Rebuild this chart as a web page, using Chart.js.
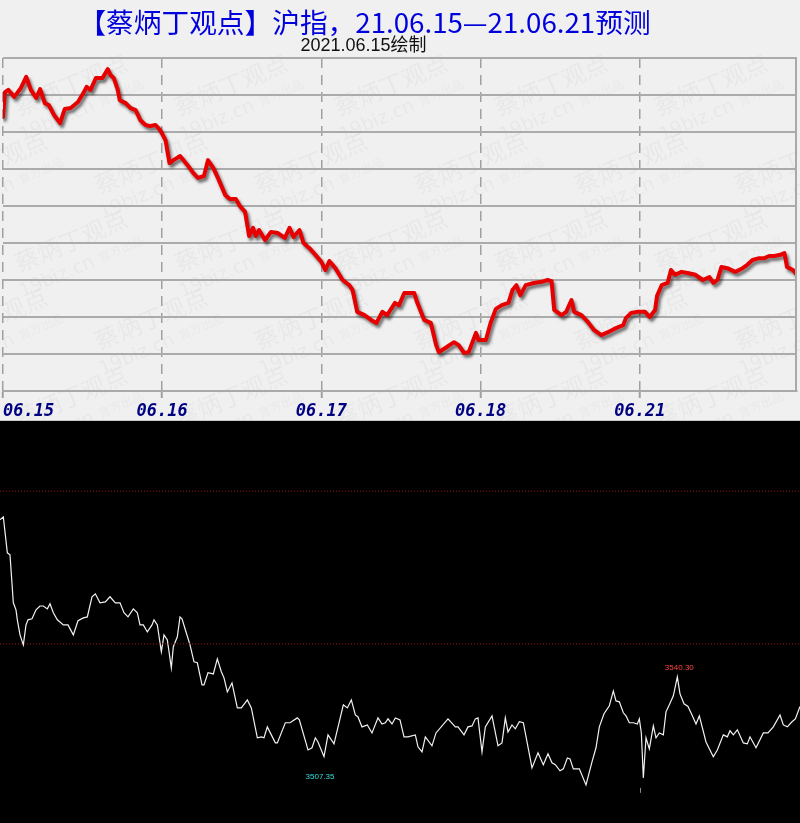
<!DOCTYPE html>
<html>
<head>
<meta charset="utf-8">
<script src="https://cdn.jsdelivr.net/npm/chart.js@4.4.1/dist/chart.umd.min.js"></script>
<style>
  body { margin: 0; background: #fff; }
  #top { position: relative; width: 800px; height: 420px; background: #f0f0f0; overflow: hidden; }
  #fc { position: absolute; left: 0; top: 0; }
  #title { position: absolute; left: 0; width: 729px; top: 5px; text-align: center; font: 27.7px "Noto Sans CJK SC", sans-serif; line-height: 32px; color: #0000dd; white-space: nowrap; }
  #sub { position: absolute; left: 0; width: 727px; top: 35px; text-align: center; font: 18px "Liberation Sans", "Noto Sans CJK SC", sans-serif; line-height: 20px; color: #111; white-space: nowrap; }
  #sep { width: 800px; height: 1px; background: #c8c8c8; }
  #bottom { width: 800px; height: 402px; background: #000; }
</style>
</head>
<body>
<div id="top">
  <canvas id="fc" width="800" height="420"></canvas>
  <div id="title">【蔡炳丁观点】沪指，21.06.15—21.06.21预测</div>
  <div id="sub">2021.06.15绘制</div>
</div>
<div id="sep"></div>
<div id="bottom"><canvas id="rt" width="800" height="402"></canvas></div>
<script>
// forecast line (top panel): minutes since 06.15 open, value in grid units (0-90)
const forecastMinute = [0,3,8,17,27,35,42,50,56,63,69,77,86,93,102,113,122,126,132,140,150,158,162,167,173,176,185,192,200,207,215,222,230,237,
  245,251,257,267,278,287,294,303,309,317,324,335,342,351,357,365,371,377,381,386,395,404,414,425,432,438,447,453,462,471,480,
  486,492,501,512,522,527,534,545,555,563,572,579,591,597,605,620,624,635,645,653,657,669,680,687,695,702,713,717,728,
  735,743,752,762,768,774,780,788,800,812,821,827,831,842,849,857,861,872,882,891,902,912,924,935,939,947,957,968,975,983,
  986,993,1002,1007,1013,1023,1032,1044,1055,1065,1071,1077,1083,1092,1104,1115,1122,1130,1140,1148,1155,1163,1172,1178,1182,1191,1197];
const forecastValue = [74.1,80.8,81.4,79.5,81.9,84.9,81.4,79.2,81.6,77.8,77.3,74.6,72.4,76.2,76.5,78.1,80.8,82.2,81.4,84.6,84.6,87.0,85.4,84.6,81.4,78.6,77.8,76.5,75.9,73.2,71.9,71.6,71.9,70.5,
  67.8,61.6,62.4,63.5,61.1,58.9,57.6,58.1,62.4,60.3,57.6,53.0,51.9,51.9,50.0,48.4,41.9,44.1,41.9,43.5,40.8,43.0,42.7,41.4,44.1,41.6,43.5,40.0,38.6,36.8,34.9,
  32.7,35.1,33.2,30.0,28.6,27.3,21.4,20.5,19.2,18.4,21.4,20.5,23.8,23.2,26.5,26.5,24.1,19.2,18.4,12.4,10.5,11.9,13.2,12.4,10.3,10.5,15.7,13.8,13.8,
  18.4,22.2,23.2,23.8,27.3,28.6,25.9,28.6,29.2,29.5,30.0,29.7,21.9,20.5,21.4,24.6,21.4,20.5,18.6,16.5,15.1,15.9,17.0,17.8,19.7,21.1,21.4,21.4,20.0,21.9,
  25.7,28.6,29.2,32.7,31.4,32.2,31.9,31.4,30.0,30.8,29.2,30.0,33.5,33.2,32.2,33.2,34.1,35.4,35.9,35.9,36.5,36.5,36.8,37.3,33.5,32.7,31.4];
const dayTicks = [0, 240, 480, 720, 960, 1197];
const dayLabels = ['06.15', '06.16', '06.17', '06.18', '06.21', ''];

// actual index (bottom panel): minutes since 06.15 open, price
const realMinute = [0,5,11,15,20,24,26,30,35,39,42,48,54,60,65,71,75,80,86,95,102,110,117,125,131,138,143,150,158,165,173,180,186,192,200,206,210,215,221,228,231,236,
  242,246,251,257,260,266,270,273,278,285,291,296,303,306,312,320,326,332,336,341,348,356,362,371,377,386,392,396,401,413,416,428,435,446,449,462,468,473,477,
  486,492,501,515,521,527,533,537,543,551,558,567,573,578,582,588,593,600,606,612,623,627,633,638,648,654,672,683,687,696,702,708,713,717,723,728,738,747,753,
  758,762,768,773,779,785,798,807,815,822,828,833,840,845,851,855,860,869,879,888,894,899,906,914,920,924,929,935,939,944,950,956,959,962,965,969,974,980,984,
  989,995,999,1004,1010,1016,1020,1026,1032,1038,1044,1049,1059,1070,1076,1085,1091,1095,1100,1106,1115,1121,1125,1134,1145,1152,1160,1170,1175,1181,1188,1193,1200];
const realPrice = [3605.0,3606.2,3591.4,3590.6,3570.8,3567.9,3563.8,3557.6,3553.5,3561.7,3563.8,3564.2,3567.9,3569.5,3569.5,3568.3,3570.4,3566.7,3563.8,3561.7,3561.7,3557.6,3563.4,3564.6,3565.0,3573.3,3574.5,3570.8,3571.2,3573.3,3570.8,3570.8,3566.7,3565.0,3568.3,3566.7,3561.7,3561.7,3558.8,3561.7,3563.8,3561.7,
  3550.6,3557.6,3555.5,3544.0,3552.7,3556.8,3565.0,3564.2,3559.7,3553.5,3546.5,3546.1,3537.0,3537.0,3542.0,3541.5,3547.7,3542.4,3539.9,3534.1,3537.8,3527.5,3527.5,3530.8,3527.5,3515.2,3515.6,3515.2,3519.7,3513.1,3513.1,3521.4,3521.4,3523.4,3522.6,3510.2,3511.1,3515.2,3513.5,
  3507.4,3516.4,3512.7,3528.8,3527.5,3530.8,3524.6,3523.8,3519.7,3520.5,3517.2,3523.4,3520.9,3521.4,3523.0,3520.9,3523.4,3522.6,3515.6,3515.6,3516.4,3511.5,3509.4,3515.6,3511.9,3517.2,3523.0,3519.7,3519.7,3516.4,3519.7,3520.1,3523.0,3523.4,3509.4,3519.7,3524.2,3511.9,3513.1,
  3523.4,3517.6,3520.5,3518.9,3521.8,3521.4,3502.8,3509.0,3504.1,3508.6,3504.9,3504.1,3501.6,3502.4,3506.9,3506.5,3502.4,3502.4,3495.8,3505.3,3511.1,3519.7,3525.1,3528.4,3534.5,3530.4,3530.0,3525.5,3524.2,3521.4,3521.4,3520.9,3523.0,3517.2,3498.7,3515.2,3510.6,3520.1,3515.2,
  3517.2,3516.4,3525.9,3528.8,3532.5,3540.3,3533.3,3529.2,3528.1,3524.6,3520.9,3524.2,3513.5,3507.4,3510.2,3516.4,3515.6,3518.1,3516.4,3518.5,3513.1,3512.7,3515.6,3511.1,3517.2,3517.2,3519.7,3524.6,3520.5,3519.7,3521.8,3523.0,3528.1];
const refLevels = [3616.8, 3553.9];
const markText = ['3540.30', '3507.35'];
const markMinute = [1016, 486];
const markPrice = [3540.30, 3507.35];
const markColor = ['#ff4444', '#33dddd'];
const tickMinute = 962;

// ---------- top: forecast ----------
const watermark = {
  id: 'watermark',
  beforeDraw(chart) {
    const c = chart.ctx;
    c.save();
    c.fillStyle = 'rgba(0,0,0,0.035)';
    for (let row = 0; row < 6; row++) {
      for (let col = -1; col < 6; col++) {
        const x = col * 160 + (row % 2) * 80 + 70, y = row * 78 + 95;
        c.save();
        c.translate(x, y);
        c.rotate(-0.4);
        c.font = '24px "Noto Sans CJK SC"';
        c.fillText('蔡炳丁观点', -55, 0);
        c.font = '19px "DejaVu Sans"';
        c.fillText('19biz.cn', -62, 24);
        c.font = '12px "Noto Sans CJK SC"';
        c.fillText('官方出品', 24, 22);
        c.restore();
      }
    }
    c.restore();
  }
};
const shadow = {
  id: 'shadow',
  beforeDatasetDraw(chart) {
    const c = chart.ctx;
    c.save();
    c.shadowColor = 'rgba(0,0,0,0.55)';
    c.shadowOffsetX = 2;
    c.shadowOffsetY = 3;
    c.shadowBlur = 3;
  },
  afterDatasetDraw(chart) { chart.ctx.restore(); }
};
const rightEdge = {
  id: 'rightEdge',
  afterDraw(chart) {
    const a = chart.chartArea, c = chart.ctx;
    c.save();
    c.strokeStyle = '#a9a9a9';
    c.lineWidth = 2;
    c.beginPath();
    c.moveTo(a.right - 1, a.top);
    c.lineTo(a.right - 1, a.bottom);
    c.stroke();
    c.restore();
  }
};

new Chart(document.getElementById('fc').getContext('2d'), {
  type: 'line',
  data: {
    datasets: [{
      data: forecastMinute.map((m, i) => ({ x: m, y: forecastValue[i] })),
      borderColor: '#e60000',
      borderWidth: 4,
      borderJoinStyle: 'round',
      borderCapStyle: 'round',
      pointRadius: 0,
      tension: 0
    }]
  },
  options: {
    responsive: false,
    animation: false,
    layout: { padding: { left: 2, right: 0, top: 58, bottom: 0 } },
    plugins: { legend: { display: false }, tooltip: { enabled: false } },
    scales: {
      x: {
        type: 'linear', min: 0, max: 1197,
        afterBuildTicks: s => { s.ticks = dayTicks.map(v => ({ value: v })); },
        afterFit: s => { s.height = 29; },
        ticks: {
          autoSkip: false, maxRotation: 0, align: 'inner', padding: 3,
          color: '#000080',
          font: { family: 'DejaVu Sans Mono', size: 17, weight: 'bold', style: 'italic' },
          callback: (v, i) => dayLabels[i]
        },
        grid: {
          color: c => c.index === dayTicks.length - 1 ? 'transparent' : '#a0a0a0',
          lineWidth: 1.5, tickLength: 7, tickWidth: 2
        },
        border: { display: true, color: '#a9a9a9', width: 2, dash: [10, 7] }
      },
      y: {
        min: 0, max: 90,
        ticks: { display: false, stepSize: 10 },
        grid: { color: '#ababab', lineWidth: 2, drawTicks: false },
        border: { display: false }
      }
    }
  },
  plugins: [watermark, shadow, rightEdge]
});

// ---------- bottom: actual ----------
const marks = {
  id: 'marks',
  afterDatasetsDraw(chart) {
    const c = chart.ctx, xs = chart.scales.x, ys = chart.scales.y;
    c.save();
    c.font = '8px "Liberation Sans"';
    c.textAlign = 'center';
    c.textBaseline = 'middle';
    markText.forEach((t, i) => {
      const px = xs.getPixelForValue(markMinute[i]);
      const py = ys.getPixelForValue(markPrice[i]);
      c.fillStyle = markColor[i];
      if (i === 0) c.fillText(t, px + 2, py - 9);
      else c.fillText(t, px - 4, py + 20);
    });
    // small grey marker under the 06.21 open
    const tx = Math.round(xs.getPixelForValue(tickMinute)) - 0.5;
    const ty = ys.getPixelForValue(3498.7);
    c.strokeStyle = '#888';
    c.lineWidth = 1;
    c.beginPath();
    c.moveTo(tx, ty + 10);
    c.lineTo(tx, ty + 15);
    c.stroke();
    c.restore();
  }
};

const refSets = refLevels.map(l => ({
  data: [{ x: 0, y: l }, { x: 1200, y: l }],
  borderColor: '#a01515',
  borderWidth: 1,
  borderDash: [1, 2],
  pointRadius: 0
}));

new Chart(document.getElementById('rt').getContext('2d'), {
  type: 'line',
  data: {
    datasets: refSets.concat([{
      data: realMinute.map((m, i) => ({ x: m, y: realPrice[i] })),
      borderColor: '#f2f2f2',
      borderWidth: 1.2,
      pointRadius: 0,
      tension: 0
    }])
  },
  options: {
    responsive: false,
    animation: false,
    layout: { padding: 0 },
    plugins: { legend: { display: false }, tooltip: { enabled: false } },
    scales: {
      x: { type: 'linear', min: 0, max: 1200, display: false },
      y: { min: 3480.1, max: 3645.7, display: false }
    }
  },
  plugins: [marks]
});
</script>
</body>
</html>
